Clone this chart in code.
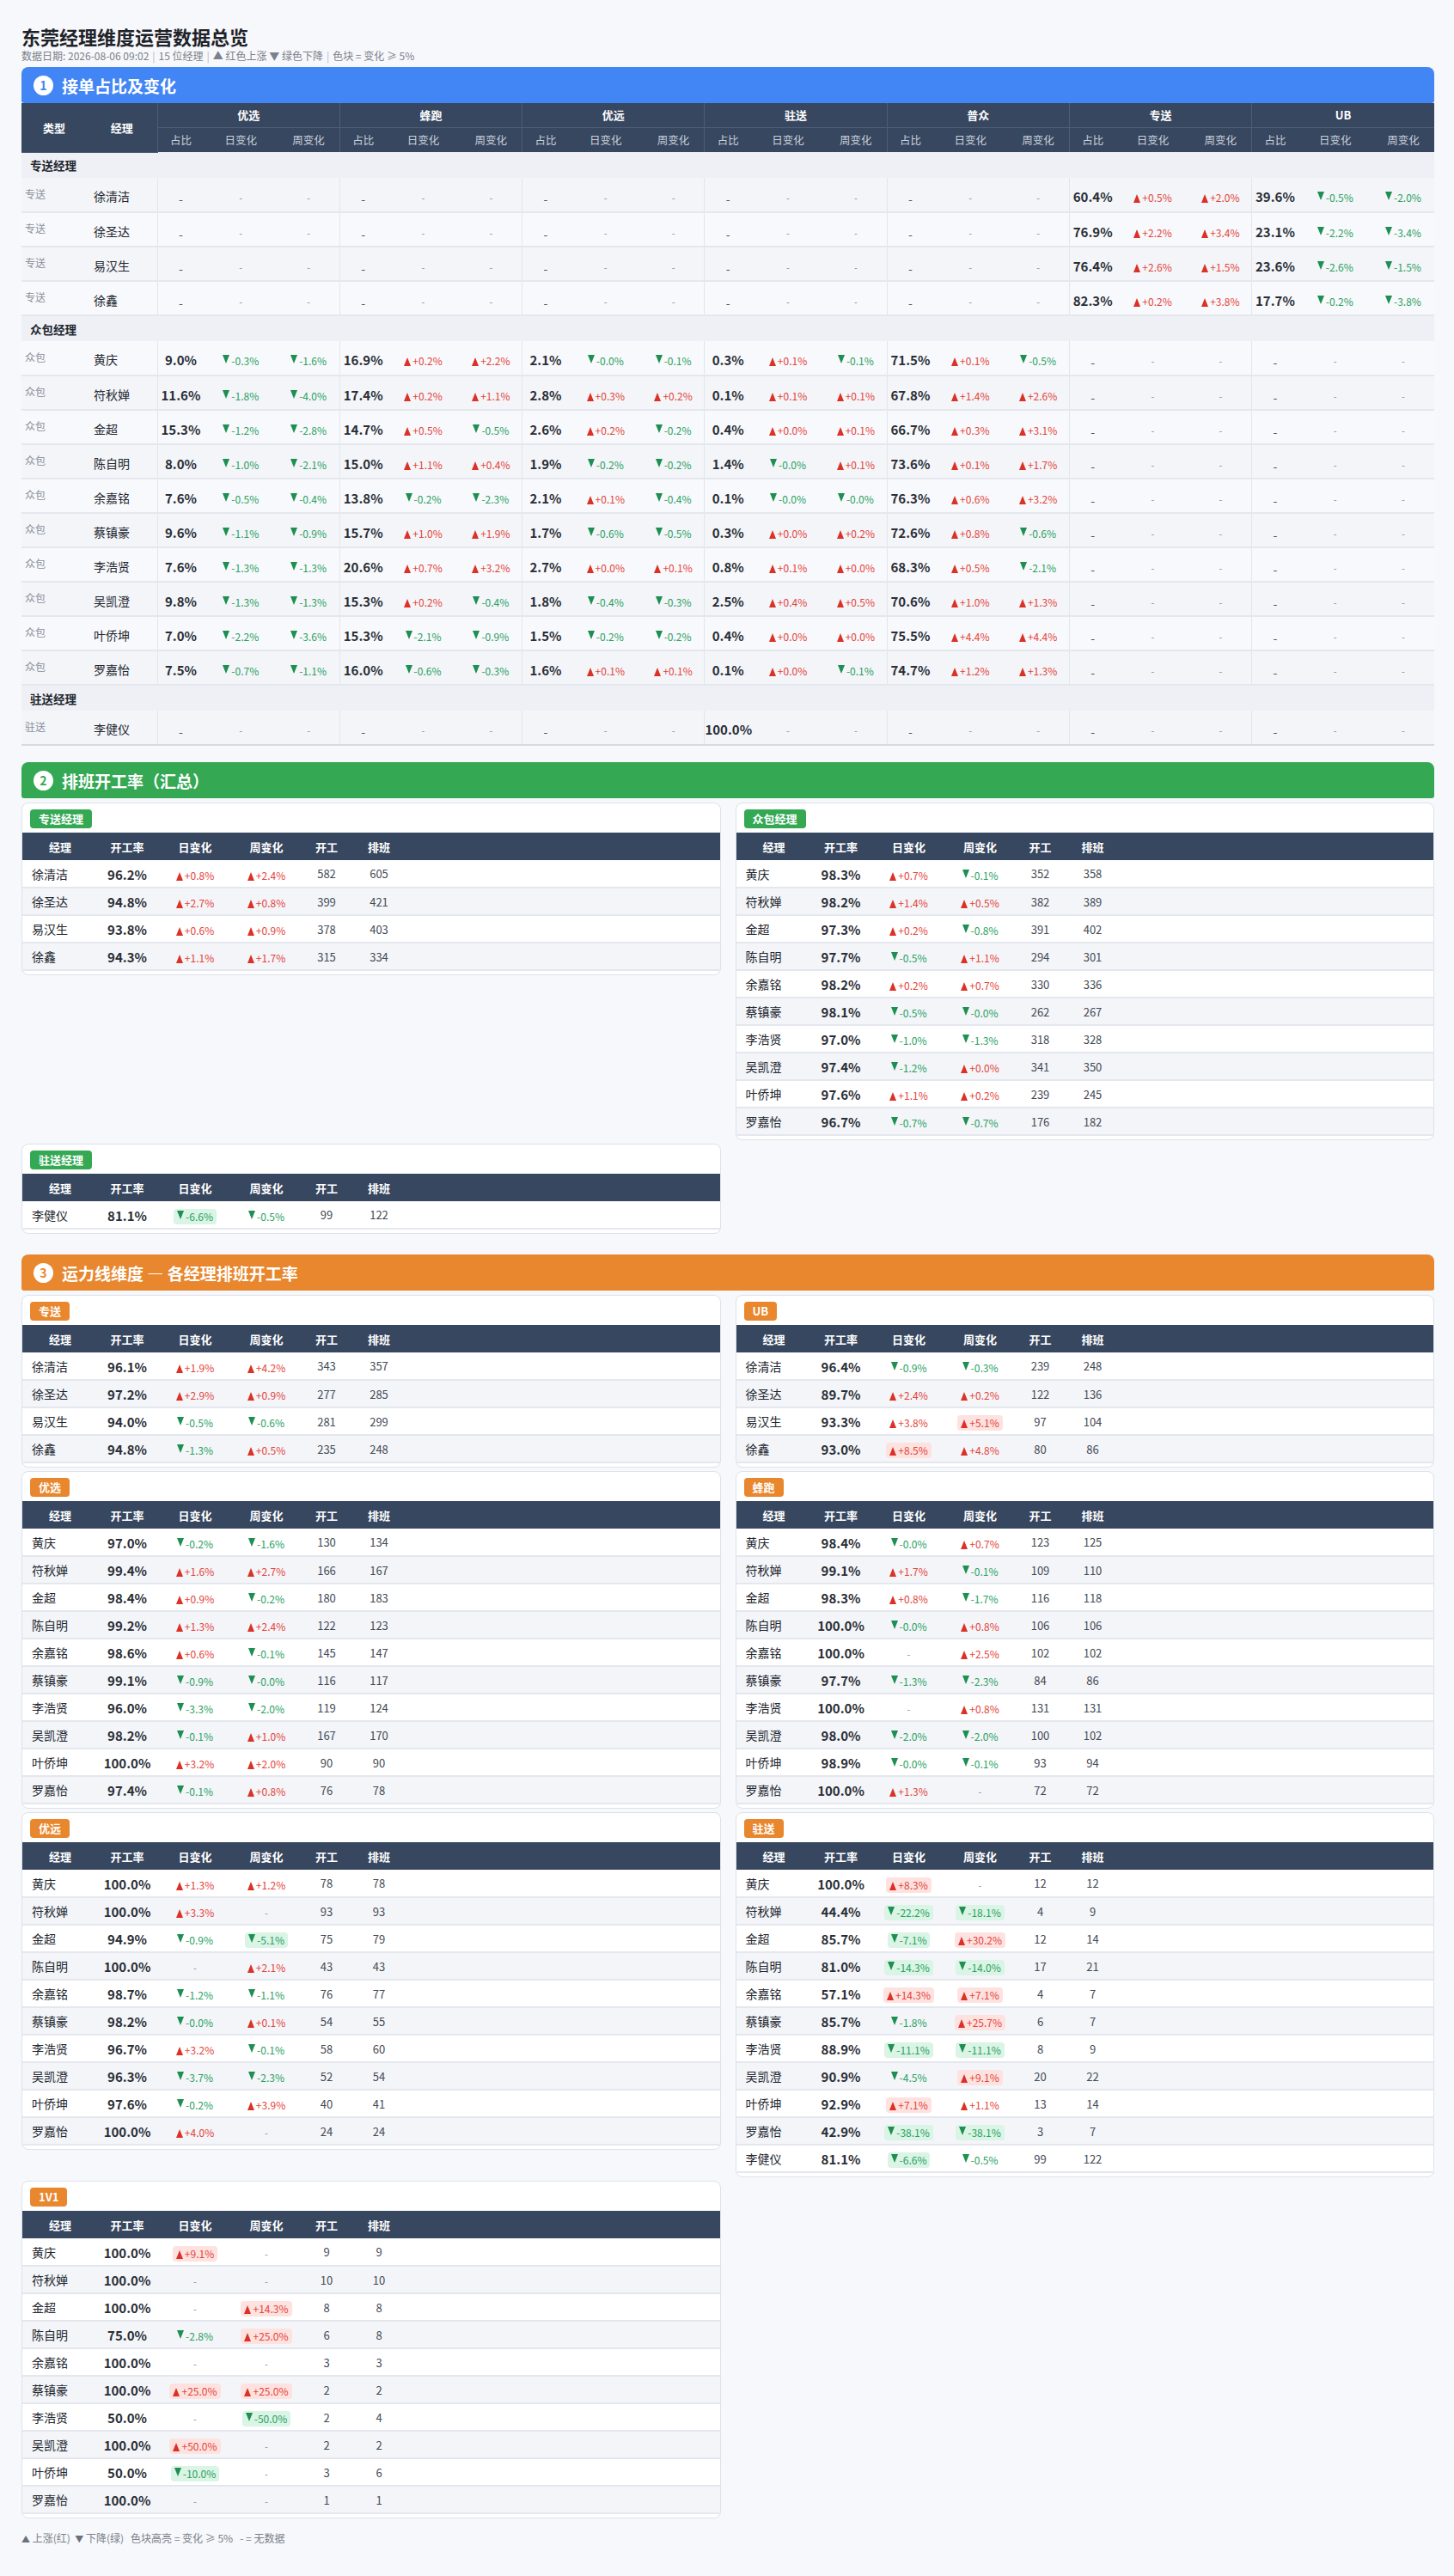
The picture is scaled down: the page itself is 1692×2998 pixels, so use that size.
<!DOCTYPE html>
<html lang="zh-CN">
<head>
<meta charset="utf-8">
<title>东莞经理维度运营数据总览</title>
<script src="https://cdn.jsdelivr.net/npm/chart.js@4.4.1/dist/chart.umd.min.js"></script>
<style>
* { box-sizing: border-box; }
html, body { margin: 0; padding: 0; background: #f6f8fb; }
body { width: 1692px; font-family: 'Noto Sans CJK SC', 'Noto Sans', sans-serif; color: #22262e; }
#page { padding: 26px 23px 0 25px; }
h1 { margin: 0; font-size: 22px; line-height: 32px; font-weight: 700; color: #1f2329; }
.sub { font-size: 12px; line-height: 14px; color: #7b808a; margin-bottom: 6px; }
.sub .sep { color: #b5b9c2; margin: 0 4px; }
.bar { display: flex; align-items: center; height: 42px; border-radius: 8px 8px 3px 3px; color: #fff;
  font-size: 19px; font-weight: 700; padding-left: 14px; }
.bar .num { width: 23px; height: 23px; border-radius: 50%; background: #fff; font-size: 14px; font-weight: 700;
  display: flex; align-items: center; justify-content: center; margin-right: 10px; }
.blue { background: #4285f4; } .blue .num { color: #4285f4; }
.green { background: #34a853; } .green .num { color: #34a853; }
.orange { background: #e8872e; } .orange .num { color: #e8872e; }

.t1 { width: 100%; border-collapse: collapse; table-layout: fixed; }
.t1 th { background: #37475f; color: #fff; text-align: center; padding: 0; }
.t1 tr.g th { height: 28px; font-size: 13px; font-weight: 700; border-bottom: 1px solid #4d5d76; }
.t1 tr.s th { height: 29px; font-size: 12.5px; font-weight: 400; color: #c9d0dc; }
.t1 th.gs { border-left: 1px solid #4d5d76; }
.t1 td { padding: 0; text-align: center; }
.t1 tr.sec td { height: 30px; background: #eef0f5; font-weight: 700; font-size: 13.5px; text-align: left; padding-left: 10px; }
.t1 tr.d td { height: 40px; border-bottom: 2px solid #e4e7ee; padding-top: 3px; }
.t1 tr.d:nth-child(odd) td { background: #f8f9fc; }
.t1 tr.d:nth-child(even) td { background: #f3f5f9; }
.t1 tr.last td { border-bottom: 2px solid #d5d9e1; }
.t1 td.gs { border-left: 1px solid #e2e5eb; }
.t1 td.type { font-size: 12px; color: #8a8f99; text-align: left; padding-left: 4px; padding-top: 0; padding-bottom: 6px; }
.t1 td.name { font-size: 14px; text-align: left; padding-left: 8px; }
.share { font-size: 15px; font-weight: 700; color: #2a2e36; }
.sdash { font-size: 14px; color: #555; position: relative; top: 2px; }
.dash { font-size: 11px; color: #8a8f99; }

.chg { font-size: 12px; white-space: nowrap; display: inline-block; padding: 1px 4px; border-radius: 4px; line-height: 16px; }
.chg.up { color: #e5443a; }
.chg.dn { color: #2aa162; }
.chg.up.hi { background: #fde2e0; }
.chg.dn.hi { background: #daf4e5; }
.tri { display: inline-block; width: 0; height: 0; margin-right: 2px; border-left: 4px solid transparent; border-right: 4px solid transparent; }
.up .tri { border-bottom: 10px solid #dc3127; vertical-align: -1px; }
.dn .tri { border-top: 10px solid #1d8f50; vertical-align: 2px; }

.grid { display: grid; grid-template-columns: 1fr 1fr; column-gap: 17px; row-gap: 4px; align-items: start; margin-top: 5px; }
.panel { background: #fff; border: 1px solid #dde1e9; border-radius: 8px; padding: 4px 0 4px; overflow: hidden; }
.badge { display: inline-block; margin-left: 9px; height: 22px; line-height: 22px; padding: 0 10px; border-radius: 4px;
  color: #fff; font-size: 13px; font-weight: 700; margin-bottom: 5px; }
.badge.gr { background: #34a853; }
.badge.or { background: #e8872e; }
.pt { width: 100%; border-collapse: collapse; table-layout: fixed; }
.pt th { background: #37475f; color: #fff; height: 32px; font-size: 13px; font-weight: 700; padding: 0; text-align: center; }
.pt td { height: 32px; border-bottom: 2px solid #e4e7ee; text-align: center; padding: 0; }
.pt tr:nth-child(odd) td { background: #fff; }
.pt tr:nth-child(even) td { background: #f3f5f9; }
.pt td.name { text-align: left; padding-left: 11px; font-size: 14px; }
.pt td.cnt { font-size: 13px; color: #444a55; }
.rate { font-size: 15px; font-weight: 700; color: #2a2e36; }
.sec2 { margin-top: 19px; }
.sec3 { margin-top: 24px; }
.foot { margin-top: 14px; font-size: 12px; color: #7b808a; }
.foot .ft { color: #6b707a; font-size: 10px; }
</style>
</head>
<body>
<div id="page">
  <h1>东莞经理维度运营数据总览</h1>
  <div class="sub">数据日期: 2026-08-06 09:02<span class="sep">|</span>15 位经理<span class="sep">|</span>▲ 红色上涨 ▼ 绿色下降<span class="sep">|</span>色块 = 变化 ≥ 5%</div>
  <div class="bar blue"><span class="num">1</span>接单占比及变化</div>
  <div id="t1wrap"></div>
  <div class="bar green sec2"><span class="num">2</span>排班开工率（汇总）</div>
  <div class="grid" id="grid2"></div>
  <div class="bar orange sec3"><span class="num">3</span>运力线维度 — 各经理排班开工率</div>
  <div class="grid" id="grid3"></div>
  <div class="foot"><span class="ft">▲</span> 上涨(红)&nbsp;&nbsp;<span class="ft">▼</span> 下降(绿)&nbsp;&nbsp;&nbsp;色块高亮 = 变化 ≥ 5%&nbsp;&nbsp;&nbsp;- = 无数据</div>
</div>
<script>
// 经理名单
var zsMgr = ['徐清洁', '徐圣达', '易汉生', '徐鑫'];
var zbMgr = ['黄庆', '符秋婵', '金超', '陈自明', '余嘉铭', '蔡镇豪', '李浩贤', '吴凯澄', '叶侨坤', '罗嘉怡'];
var zhuMgr = ['李健仪'];

// ① 接单占比 (顺序: 专送4 + 众包10 + 驻送1)
var lineNames = ['优选', '蜂跑', '优远', '驻送', '普众', '专送', 'UB'];
var youxuanShare = [null, null, null, null, 9.0, 11.6, 15.3, 8.0, 7.6, 9.6, 7.6, 9.8, 7.0, 7.5, null];
var youxuanDay = [null, null, null, null, -0.3, -1.8, -1.2, -1.0, -0.5, -1.1, -1.3, -1.3, -2.2, -0.7, null];
var youxuanWeek = [null, null, null, null, -1.6, -4.0, -2.8, -2.1, -0.4, -0.9, -1.3, -1.3, -3.6, -1.1, null];
var fengpaoShare = [null, null, null, null, 16.9, 17.4, 14.7, 15.0, 13.8, 15.7, 20.6, 15.3, 15.3, 16.0, null];
var fengpaoDay = [null, null, null, null, 0.2, 0.2, 0.5, 1.1, -0.2, 1.0, 0.7, 0.2, -2.1, -0.6, null];
var fengpaoWeek = [null, null, null, null, 2.2, 1.1, -0.5, 0.4, -2.3, 1.9, 3.2, -0.4, -0.9, -0.3, null];
var youyuanShare = [null, null, null, null, 2.1, 2.8, 2.6, 1.9, 2.1, 1.7, 2.7, 1.8, 1.5, 1.6, null];
var youyuanDay = [null, null, null, null, -0.0, 0.3, 0.2, -0.2, 0.1, -0.6, 0.0, -0.4, -0.2, 0.1, null];
var youyuanWeek = [null, null, null, null, -0.1, 0.2, -0.2, -0.2, -0.4, -0.5, 0.1, -0.3, -0.2, 0.1, null];
var zhusongShare = [null, null, null, null, 0.3, 0.1, 0.4, 1.4, 0.1, 0.3, 0.8, 2.5, 0.4, 0.1, 100.0];
var zhusongDay = [null, null, null, null, 0.1, 0.1, 0.0, -0.0, -0.0, 0.0, 0.1, 0.4, 0.0, 0.0, null];
var zhusongWeek = [null, null, null, null, -0.1, 0.1, 0.1, 0.1, -0.0, 0.2, 0.0, 0.5, 0.0, -0.1, null];
var puzhongShare = [null, null, null, null, 71.5, 67.8, 66.7, 73.6, 76.3, 72.6, 68.3, 70.6, 75.5, 74.7, null];
var puzhongDay = [null, null, null, null, 0.1, 1.4, 0.3, 0.1, 0.6, 0.8, 0.5, 1.0, 4.4, 1.2, null];
var puzhongWeek = [null, null, null, null, -0.5, 2.6, 3.1, 1.7, 3.2, -0.6, -2.1, 1.3, 4.4, 1.3, null];
var zhuansongShare = [60.4, 76.9, 76.4, 82.3, null, null, null, null, null, null, null, null, null, null, null];
var zhuansongDay = [0.5, 2.2, 2.6, 0.2, null, null, null, null, null, null, null, null, null, null, null];
var zhuansongWeek = [2.0, 3.4, 1.5, 3.8, null, null, null, null, null, null, null, null, null, null, null];
var ubShare = [39.6, 23.1, 23.6, 17.7, null, null, null, null, null, null, null, null, null, null, null];
var ubDay = [-0.5, -2.2, -2.6, -0.2, null, null, null, null, null, null, null, null, null, null, null];
var ubWeek = [-2.0, -3.4, -1.5, -3.8, null, null, null, null, null, null, null, null, null, null, null];

// ② 排班开工率（汇总）
var zsRate = [96.2, 94.8, 93.8, 94.3];
var zsDay = [0.8, 2.7, 0.6, 1.1];
var zsWeek = [2.4, 0.8, 0.9, 1.7];
var zsOpen = [582, 399, 378, 315];
var zsSched = [605, 421, 403, 334];
var zbRate = [98.3, 98.2, 97.3, 97.7, 98.2, 98.1, 97.0, 97.4, 97.6, 96.7];
var zbDay = [0.7, 1.4, 0.2, -0.5, 0.2, -0.5, -1.0, -1.2, 1.1, -0.7];
var zbWeek = [-0.1, 0.5, -0.8, 1.1, 0.7, -0.0, -1.3, 0.0, 0.2, -0.7];
var zbOpen = [352, 382, 391, 294, 330, 262, 318, 341, 239, 176];
var zbSched = [358, 389, 402, 301, 336, 267, 328, 350, 245, 182];
var zhuRate = [81.1];
var zhuDay = [-6.6];
var zhuWeek = [-0.5];
var zhuOpen = [99];
var zhuSched = [122];

// ③ 运力线维度
var lnZsRate = [96.1, 97.2, 94.0, 94.8];
var lnZsDay = [1.9, 2.9, -0.5, -1.3];
var lnZsWeek = [4.2, 0.9, -0.6, 0.5];
var lnZsOpen = [343, 277, 281, 235];
var lnZsSched = [357, 285, 299, 248];
var lnUbRate = [96.4, 89.7, 93.3, 93.0];
var lnUbDay = [-0.9, 2.4, 3.8, 8.5];
var lnUbWeek = [-0.3, 0.2, 5.1, 4.8];
var lnUbOpen = [239, 122, 97, 80];
var lnUbSched = [248, 136, 104, 86];
var lnYxRate = [97.0, 99.4, 98.4, 99.2, 98.6, 99.1, 96.0, 98.2, 100.0, 97.4];
var lnYxDay = [-0.2, 1.6, 0.9, 1.3, 0.6, -0.9, -3.3, -0.1, 3.2, -0.1];
var lnYxWeek = [-1.6, 2.7, -0.2, 2.4, -0.1, -0.0, -2.0, 1.0, 2.0, 0.8];
var lnYxOpen = [130, 166, 180, 122, 145, 116, 119, 167, 90, 76];
var lnYxSched = [134, 167, 183, 123, 147, 117, 124, 170, 90, 78];
var lnFpRate = [98.4, 99.1, 98.3, 100.0, 100.0, 97.7, 100.0, 98.0, 98.9, 100.0];
var lnFpDay = [-0.0, 1.7, 0.8, -0.0, null, -1.3, null, -2.0, -0.0, 1.3];
var lnFpWeek = [0.7, -0.1, -1.7, 0.8, 2.5, -2.3, 0.8, -2.0, -0.1, null];
var lnFpOpen = [123, 109, 116, 106, 102, 84, 131, 100, 93, 72];
var lnFpSched = [125, 110, 118, 106, 102, 86, 131, 102, 94, 72];
var lnYyRate = [100.0, 100.0, 94.9, 100.0, 98.7, 98.2, 96.7, 96.3, 97.6, 100.0];
var lnYyDay = [1.3, 3.3, -0.9, null, -1.2, -0.0, 3.2, -3.7, -0.2, 4.0];
var lnYyWeek = [1.2, null, -5.1, 2.1, -1.1, 0.1, -0.1, -2.3, 3.9, null];
var lnYyOpen = [78, 93, 75, 43, 76, 54, 58, 52, 40, 24];
var lnYySched = [78, 93, 79, 43, 77, 55, 60, 54, 41, 24];
var lnZhuRate = [100.0, 44.4, 85.7, 81.0, 57.1, 85.7, 88.9, 90.9, 92.9, 42.9, 81.1];
var lnZhuDay = [8.3, -22.2, -7.1, -14.3, 14.3, -1.8, -11.1, -4.5, 7.1, -38.1, -6.6];
var lnZhuWeek = [null, -18.1, 30.2, -14.0, 7.1, 25.7, -11.1, 9.1, 1.1, -38.1, -0.5];
var lnZhuOpen = [12, 4, 12, 17, 4, 6, 8, 20, 13, 3, 99];
var lnZhuSched = [12, 9, 14, 21, 7, 7, 9, 22, 14, 7, 122];
var ln1v1Rate = [100.0, 100.0, 100.0, 75.0, 100.0, 100.0, 50.0, 100.0, 50.0, 100.0];
var ln1v1Day = [9.1, null, null, -2.8, null, 25.0, null, 50.0, -10.0, null];
var ln1v1Week = [null, null, 14.3, 25.0, null, 25.0, -50.0, null, null, null];
var ln1v1Open = [9, 10, 8, 6, 3, 2, 2, 2, 3, 1];
var ln1v1Sched = [9, 10, 8, 8, 3, 2, 4, 2, 6, 1];

var HI_LIMIT = 5;

function chg(v) {
    if (v === null) return '<span class="dash">-</span>';
    var neg = v < 0 || Object.is(v, -0);
    var cls = neg ? 'dn' : 'up';
    if (Math.abs(v) >= HI_LIMIT) cls += ' hi';
    var txt = (neg ? '-' : '+') + Math.abs(v).toFixed(1) + '%';
    return '<span class="chg ' + cls + '"><i class="tri"></i>' + txt + '</span>';
}

function pct(v, cls) {
    if (v === null) return '<span class="sdash">-</span>';
    return '<span class="' + cls + '">' + v.toFixed(1) + '%</span>';
}

// 表一
function buildTable1() {
    var lineData = [
        [youxuanShare, youxuanDay, youxuanWeek],
        [fengpaoShare, fengpaoDay, fengpaoWeek],
        [youyuanShare, youyuanDay, youyuanWeek],
        [zhusongShare, zhusongDay, zhusongWeek],
        [puzhongShare, puzhongDay, puzhongWeek],
        [zhuansongShare, zhuansongDay, zhuansongWeek],
        [ubShare, ubDay, ubWeek]
    ];
    var html = '<table class="t1"><colgroup><col style="width:76px"><col style="width:82px">';
    for (var i = 0; i < lineNames.length; i++) {
        html += '<col style="width:54px"><col style="width:86px"><col style="width:72px">';
    }
    html += '</colgroup><thead><tr class="g"><th rowspan="2">类型</th><th rowspan="2">经理</th>';
    lineNames.forEach(function (n) { html += '<th colspan="3" class="gs">' + n + '</th>'; });
    html += '</tr><tr class="s">';
    lineNames.forEach(function () { html += '<th class="gs">占比</th><th>日变化</th><th>周变化</th>'; });
    html += '</tr></thead><tbody>';

    var groups = [['专送经理', '专送', zsMgr], ['众包经理', '众包', zbMgr], ['驻送经理', '驻送', zhuMgr]];
    var idx = 0;
    groups.forEach(function (g, gi) {
        html += '<tr class="sec"><td colspan="' + (2 + lineNames.length * 3) + '">' + g[0] + '</td></tr>';
        g[2].forEach(function (name, k) {
            var last = (gi === groups.length - 1 && k === g[2].length - 1);
            html += '<tr class="d' + (last ? ' last' : '') + '"><td class="type">' + g[1] + '</td><td class="name">' + name + '</td>';
            lineData.forEach(function (ld) {
                html += '<td class="gs">' + pct(ld[0][idx], 'share') + '</td><td>' + chg(ld[1][idx]) + '</td><td>' + chg(ld[2][idx]) + '</td>';
            });
            html += '</tr>';
            idx++;
        });
    });
    html += '</tbody></table>';
    document.getElementById('t1wrap').innerHTML = html;
}

function panel(title, color, names, rate, day, week, open, sched) {
    var html = '<div class="panel"><span class="badge ' + color + '">' + title + '</span>';
    html += '<table class="pt"><colgroup><col style="width:88px"><col style="width:68px"><col style="width:90px">' +
        '<col style="width:76px"><col style="width:64px"><col style="width:58px"><col></colgroup>';
    html += '<thead><tr><th>经理</th><th>开工率</th><th>日变化</th><th>周变化</th><th>开工</th><th>排班</th><th></th></tr></thead><tbody>';
    for (var i = 0; i < names.length; i++) {
        html += '<tr><td class="name">' + names[i] + '</td><td>' + pct(rate[i], 'rate') + '</td><td>' + chg(day[i]) +
            '</td><td>' + chg(week[i]) + '</td><td class="cnt">' + open[i] + '</td><td class="cnt">' + sched[i] + '</td><td></td></tr>';
    }
    html += '</tbody></table></div>';
    return html;
}

buildTable1();

var zhuAll = zbMgr.concat(zhuMgr);
document.getElementById('grid2').innerHTML =
    panel('专送经理', 'gr', zsMgr, zsRate, zsDay, zsWeek, zsOpen, zsSched) +
    panel('众包经理', 'gr', zbMgr, zbRate, zbDay, zbWeek, zbOpen, zbSched) +
    panel('驻送经理', 'gr', zhuMgr, zhuRate, zhuDay, zhuWeek, zhuOpen, zhuSched);

document.getElementById('grid3').innerHTML =
    panel('专送', 'or', zsMgr, lnZsRate, lnZsDay, lnZsWeek, lnZsOpen, lnZsSched) +
    panel('UB', 'or', zsMgr, lnUbRate, lnUbDay, lnUbWeek, lnUbOpen, lnUbSched) +
    panel('优选', 'or', zbMgr, lnYxRate, lnYxDay, lnYxWeek, lnYxOpen, lnYxSched) +
    panel('蜂跑', 'or', zbMgr, lnFpRate, lnFpDay, lnFpWeek, lnFpOpen, lnFpSched) +
    panel('优远', 'or', zbMgr, lnYyRate, lnYyDay, lnYyWeek, lnYyOpen, lnYySched) +
    panel('驻送', 'or', zhuAll, lnZhuRate, lnZhuDay, lnZhuWeek, lnZhuOpen, lnZhuSched) +
    panel('1V1', 'or', zbMgr, ln1v1Rate, ln1v1Day, ln1v1Week, ln1v1Open, ln1v1Sched);
</script>
</body>
</html>
